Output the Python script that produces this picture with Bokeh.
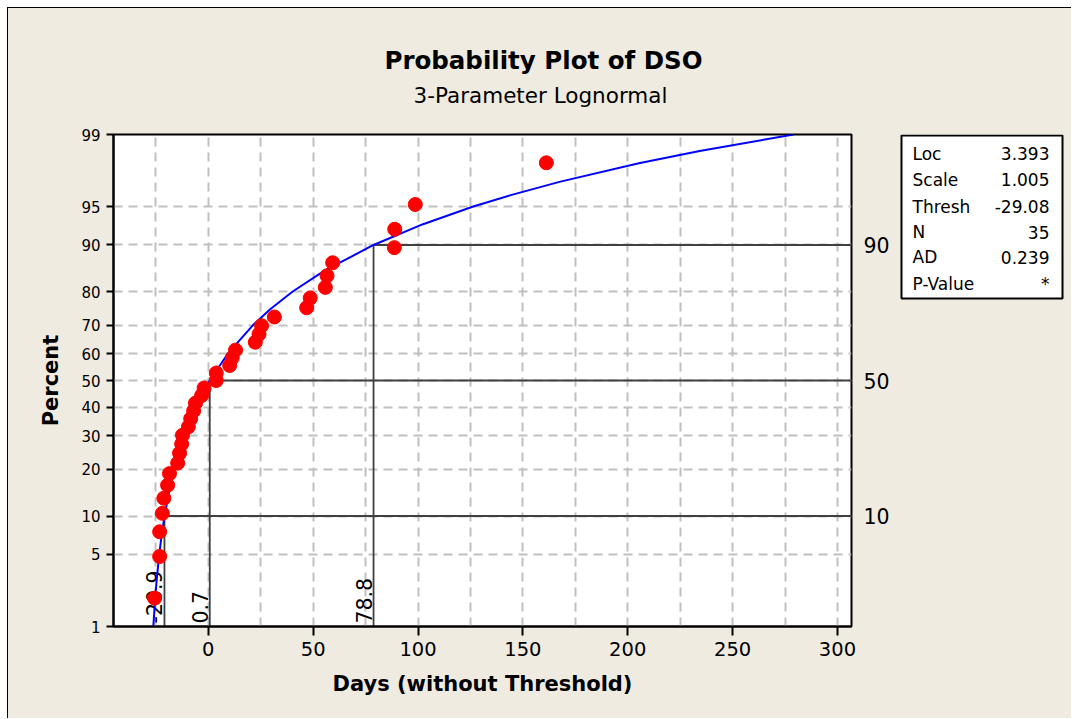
from statistics import NormalDist
from math import pi
from bokeh.plotting import figure
from bokeh.layouts import column, row
from bokeh.models import (FixedTicker, CustomJSTickFormatter, Label, LinearAxis,
                          ColumnDataSource, Range1d)
from bokeh.core.properties import value
from bokeh.embed import file_html
from bokeh.resources import INLINE

# ---------------- data ----------------
point_pct = [1.977, 4.802, 7.627, 10.452, 13.277, 16.102, 18.927, 21.751, 24.576,
             27.401, 30.226, 33.051, 35.876, 38.701, 41.525, 44.350, 47.175, 50.000,
             52.825, 55.650, 58.475, 61.299, 64.124, 66.949, 69.774, 72.599, 75.424,
             78.249, 81.073, 83.898, 86.723, 89.548, 92.373, 95.198, 98.023]
point_days = [-25.6, -23.2, -23.2, -21.9, -21.2, -19.4, -18.5, -14.6, -13.7,
              -12.7, -12.3, -9.5, -8.4, -7.0, -6.1, -3.2, -2.0, 3.8,
              3.8, 10.2, 11.4, 13.0, 22.4, 24.2, 25.4, 31.5, 46.9,
              48.6, 55.8, 56.6, 59.3, 88.7, 88.9, 98.7, 161.2]

fit_pct = [1, 2, 3, 5, 7, 10, 15, 20, 25, 30, 40, 50, 60, 70, 75, 80, 85, 90,
           93, 95, 96, 97, 98, 98.5, 99]
fit_days = [-26.21, -25.30, -24.59, -23.38, -22.33, -20.87, -18.58, -16.31, -13.97,
            -11.51, -6.01, 0.67, 9.30, 21.32, 29.52, 40.25, 55.24, 78.80,
            102.07, 126.33, 143.8, 167.9, 205.3, 234.3, 279.1]

ref_pct = [10, 50, 90]
ref_days = [-20.9, 0.7, 78.8]
ref_day_labels = ["-20.9", "0.7", "78.8"]
ref_pct_labels = ["10", "50", "90"]

y_tick_pct = [1, 5, 10, 20, 30, 40, 50, 60, 70, 80, 90, 95, 99]
y_tick_labels = ["1", "5", "10", "20", "30", "40", "50", "60", "70", "80", "90", "95", "99"]
y_grid_pct = [5, 10, 20, 30, 40, 50, 60, 70, 80, 90, 95]
x_ticks = [0, 50, 100, 150, 200, 250, 300]
x_grid = [-25, 0, 25, 50, 75, 100, 125, 150, 175, 200, 225, 250, 275, 300]

title_text = "Probability Plot of DSO"
subtitle_text = "3-Parameter Lognormal"
stats_names = ["Loc", "Scale", "Thresh", "N", "AD", "P-Value"]
stats_values = ["3.393", "1.005", "-29.08", "35", "0.239", "*"]

# probability scale transform
nd = NormalDist()
def pz(p):
    return nd.inv_cdf(p / 100.0)

BG = "#EFEBE1"
FONT = "DejaVu Sans"
NEAREST_JS = """
let best = 0, bd = 1e9;
for (let k = 0; k < zs.length; k++) { const d = Math.abs(zs[k] - tick); if (d < bd) { bd = d; best = k; } }
return labels[best];
"""

TOTAL_W, TITLE_H, MAIN_H, MAIN_W = 1063, 112, 598, 888
SIDE_W = TOTAL_W - MAIN_W

# ---------------- title figure ----------------
tf = figure(width=TOTAL_W, height=TITLE_H, x_range=(0, TOTAL_W), y_range=Range1d(TITLE_H, 0),
            output_backend="svg", toolbar_location=None, x_axis_location=None,
            y_axis_location=None, min_border=0, background_fill_color=BG,
            border_fill_color=BG, outline_line_color=None)
tf.grid.visible = False
tf.text(x=[535], y=[52], text=[title_text], text_align="center", text_baseline="middle",
        text_font=value(FONT), text_font_style="bold", text_font_size="24.5px", text_color="black")
tf.text(x=[532], y=[87], text=[subtitle_text], text_align="center", text_baseline="middle",
        text_font=value(FONT), text_font_size="21.5px", text_color="black")

# ---------------- main probability plot ----------------
x_start, x_end = -45.2, 306.7
y_start, y_end = pz(1) - 1e-9, pz(99) + 1e-9

p = figure(width=MAIN_W, height=MAIN_H, x_range=(x_start, x_end), y_range=(y_start, y_end),
           output_backend="svg", toolbar_location=None,
           min_border_left=105, min_border_right=45, min_border_top=14, min_border_bottom=92,
           background_fill_color="white", border_fill_color=BG)
p.outline_line_color = "black"
p.outline_line_width = 2

p.xaxis.ticker = FixedTicker(ticks=x_ticks)
p.xaxis.axis_label = "Days (without Threshold)"
p.yaxis.axis_label = "Percent"
zt = [pz(v) for v in y_tick_pct]
p.yaxis.ticker = FixedTicker(ticks=zt)
p.yaxis.formatter = CustomJSTickFormatter(args=dict(zs=zt, labels=y_tick_labels), code=NEAREST_JS)
for ax in (p.xaxis[0], p.yaxis[0]):
    ax.axis_line_width = 2
    ax.axis_line_color = "black"
    ax.major_tick_line_width = 2
    ax.major_tick_line_color = "black"
    ax.major_tick_in = 0
    ax.minor_tick_line_color = None
    ax.major_label_text_font = FONT
    ax.major_label_text_color = "black"
    ax.axis_label_text_font = FONT
    ax.axis_label_text_font_style = "bold"
    ax.axis_label_text_font_size = "21px"
    ax.axis_label_text_color = "black"
p.xaxis.major_tick_out = 9
p.xaxis.major_label_standoff = 6
p.xaxis.major_label_text_font_size = "19.5px"
p.xaxis.axis_label_standoff = 13
p.yaxis.major_tick_out = 7
p.yaxis.major_label_standoff = 6
p.yaxis.major_label_text_font_size = "15px"
p.yaxis.axis_label_standoff = 15

# right-hand percent labels as an axis
zr = [pz(v) for v in ref_pct]
ax_r = LinearAxis(ticker=FixedTicker(ticks=zr),
                  formatter=CustomJSTickFormatter(args=dict(zs=zr, labels=ref_pct_labels), code=NEAREST_JS),
                  axis_line_color=None, major_tick_line_color=None, minor_tick_line_color=None,
                  major_tick_out=0, major_tick_in=0, major_label_standoff=12,
                  major_label_text_font=FONT, major_label_text_font_size="20.5px",
                  major_label_text_color="black")
p.add_layout(ax_r, "right")

# grids
p.xgrid.ticker = FixedTicker(ticks=x_grid)
p.ygrid.ticker = FixedTicker(ticks=[pz(v) for v in y_grid_pct])
for g in (p.xgrid[0], p.ygrid[0]):
    g.grid_line_color = "#C0C0C0"
    g.grid_line_width = 2
    g.grid_line_dash = "9 6"

# reference lines
for d, pc in zip(ref_days, ref_pct):
    p.segment(x0=[d], y0=[pz(pc)], x1=[x_end], y1=[pz(pc)], line_color="#404040", line_width=1.8)
    p.segment(x0=[d], y0=[y_start], x1=[d], y1=[pz(pc)], line_color="#404040", line_width=1.8)

# rotated reference value labels
for d, t in zip(ref_days, ref_day_labels):
    p.add_layout(Label(x=d, y=y_start, x_offset=-10, y_offset=3, text=t, angle=pi / 2,
                       text_align="left", text_baseline="alphabetic",
                       text_font=FONT, text_font_size="20.5px", text_color="black",
                       level="underlay"))

# fitted curve
p.line(x=fit_days, y=[pz(v) for v in fit_pct], line_color="#0000FF", line_width=2)

# data points
src = ColumnDataSource(dict(x=point_days, y=[pz(v) for v in point_pct]))
p.scatter("x", "y", source=src, size=14, fill_color="#FF0000", line_color="#FF0000")

# ---------------- side figure with statistics box (frame aligned with main frame) ----------------
sf = figure(width=SIDE_W, height=MAIN_H, x_range=(896, 896 + SIDE_W), y_range=Range1d(626, 134),
            output_backend="svg", toolbar_location=None, x_axis_location=None,
            y_axis_location=None, min_border=0, background_fill_color=BG,
            border_fill_color=BG, outline_line_color=None)
sf.grid.visible = False
sf.quad(left=[901], right=[1062], top=[135], bottom=[298], fill_color="white",
        line_color="black", line_width=2)
row_y = [153.3, 179.3, 206.0, 231.7, 256.7, 283.3]
sf.text(x=[912] * len(stats_names), y=row_y, text=stats_names, text_align="left",
        text_baseline="middle", text_font=value(FONT), text_font_size="17px", text_color="black")
sf.text(x=[1049] * len(stats_values), y=row_y, text=stats_values, text_align="right",
        text_baseline="middle", text_font=value(FONT), text_font_size="17px", text_color="black")

layout = column(tf, row(p, sf, styles={"background-color": BG}), margin=(7, 0, 0, 7),
                styles={"border-left": "1px solid black", "border-top": "1px solid black",
                        "background-color": BG})

open("out.html", "w").write(file_html(layout, INLINE))
